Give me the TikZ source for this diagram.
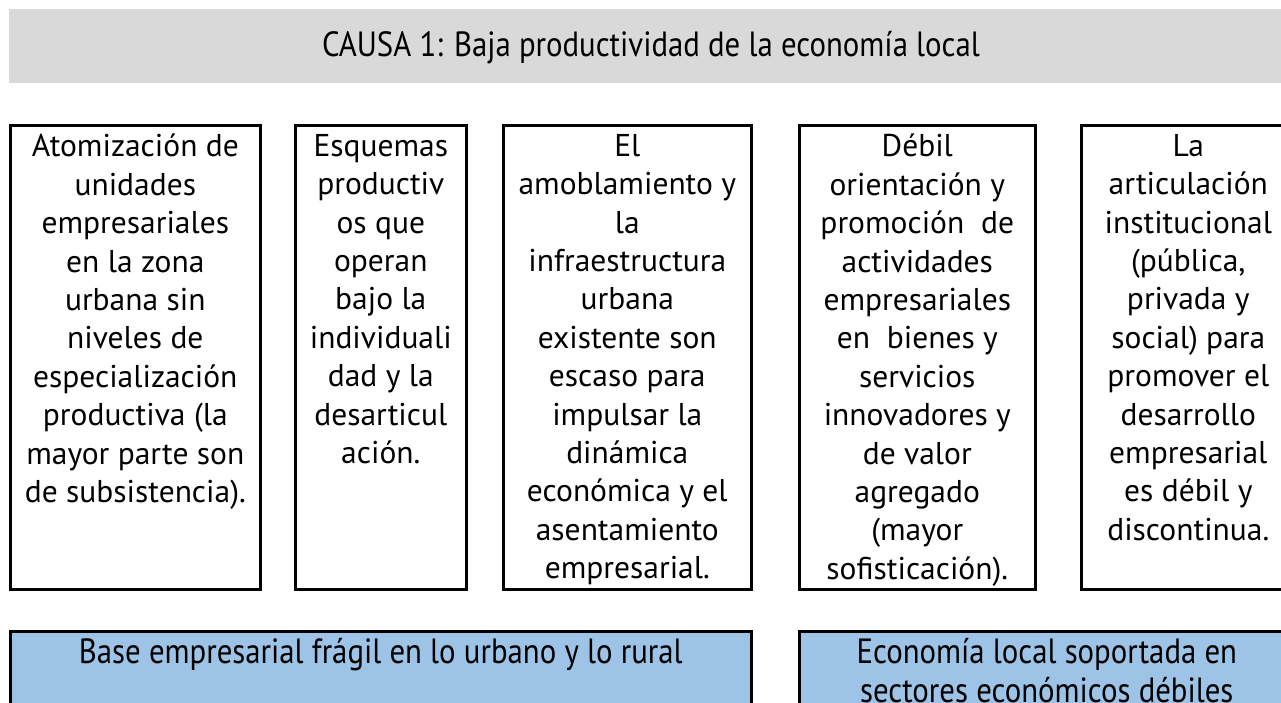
\documentclass[tikz,border=0pt]{standalone}
\usepackage{fontspec}
\setmainfont{PT Sans}
\usepackage{tikz}
\usetikzlibrary{positioning}
\definecolor{bannergray}{HTML}{D9D9D9}
\definecolor{effectblue}{HTML}{9DC3E6}

\begin{document}
\begin{tikzpicture}[
    x=1pt, y=-1pt,
    cell/.style={draw, line width=2.6pt, anchor=north west, inner sep=0pt},
    celltext/.style={align=center, inner sep=0pt, anchor=north,
      font=\fontsize{31.5}{38.4}\selectfont},
    effect/.style={cell, fill=effectblue},
    narrow/.style={align=center, inner sep=0pt,
      font=\fontsize{35}{39}\selectfont}
  ]

    \useasboundingbox (0, 0) rectangle (1281, 703);

    % banner
    \fill [bannergray] (9, 9) rectangle (1293, 83);
    \node [narrow] (title) at (651, 48)
    {\scalebox{0.88}[1]{CAUSA 1: Baja productividad de la econom\'ia local}};

    % causes
    \node [cell, minimum width=250, minimum height=464] (b1) at (9, 124) {};
    \node [cell, minimum width=171, minimum height=464] (b2) at (294, 124) {};
    \node [cell, minimum width=248, minimum height=464] (b3) at (502, 124) {};
    \node [cell, minimum width=236, minimum height=464] (b4) at (798, 124) {};
    \node [cell, minimum width=214, minimum height=464] (b5) at (1080, 124) {};

    \node [celltext, below=10pt of b1.north] (t1)
    {Atomizaci\'on de\\unidades\\empresariales\\en la zona\\urbana sin\\niveles de\\especializaci\'on\\productiva (la\\mayor parte son\\de subsistencia).};
    \node [celltext, below=10pt of b2.north] (t2)
    {Esquemas\\productiv\\os que\\operan\\bajo la\\individuali\\dad y la\\desarticul\\aci\'on.};
    \node [celltext, below=10pt of b3.north] (t3)
    {El\\amoblamiento y\\la\\infraestructura\\urbana\\existente son\\escaso para\\impulsar la\\din\'amica\\econ\'omica y el\\asentamiento\\empresarial.};
    \node [celltext, below=10pt of b4.north] (t4)
    {D\'ebil\\orientaci\'on y\\promoci\'on~ de\\actividades\\empresariales\\en~ bienes y\\servicios\\innovadores y\\de valor\\agregado\\(mayor\\sofisticaci\'on).};
    \node [celltext, below=10pt of b5.north] (t5)
    {La\\articulaci\'on\\institucional\\(p\'ublica,\\privada y\\social) para\\promover el\\desarrollo\\empresarial\\es d\'ebil y\\discontinua.};

    % effects
    \node [effect, minimum width=741, minimum height=120] (e1) at (9, 630) {};
    \node [effect, minimum width=495, minimum height=120] (e2) at (798, 630) {};

    \node [narrow, anchor=north, below=8pt of e1.north] (l1)
    {\scalebox{0.88}[1]{Base empresarial fr\'agil en lo urbano y lo rural}};
    \node [narrow, anchor=north, below=8pt of e2.north] (l2)
    {\scalebox{0.88}[1]{Econom\'ia local soportada en}\\\scalebox{0.88}[1]{sectores econ\'omicos d\'ebiles}};

  \end{tikzpicture}
\end{document}
